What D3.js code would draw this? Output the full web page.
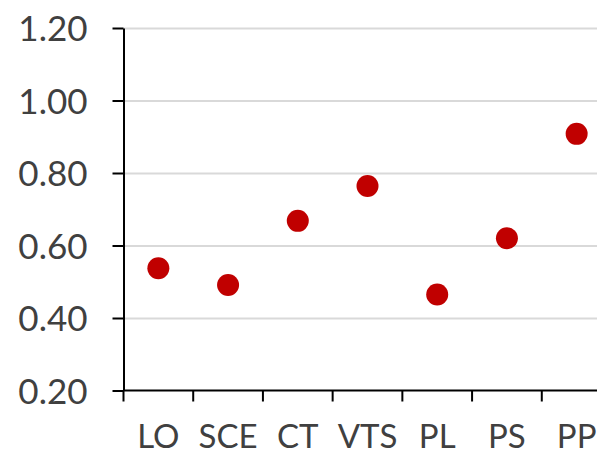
<!DOCTYPE html>
<html>
<head>
<meta charset="utf-8">
<script src="https://cdn.jsdelivr.net/npm/d3@7"></script>
<style>
  body { margin: 0; background: #fff; }
  svg { display: block; }
  .tick text { font-family: Lato, "Open Sans", sans-serif; fill: #404040; }
</style>
</head>
<body>
<svg width="597" height="455"></svg>
<script>
const categories = ['LO', 'SCE', 'CT', 'VTS', 'PL', 'PS', 'PP'];
const values = [0.537, 0.491, 0.668, 0.764, 0.465, 0.620, 0.908];
const yTicks = [0.2, 0.4, 0.6, 0.8, 1.0, 1.2];

const margin = { top: 28, left: 123.5 };
const height = 362.5;
const width = 488;

const svg = d3.select('svg');
const chart = svg.append('g')
    .attr('transform', `translate(${margin.left}, ${margin.top})`);

const yScale = d3.scaleLinear()
    .range([height, 0])
    .domain([0.2, 1.2]);

const xScale = d3.scaleBand()
    .range([0, width])
    .domain(categories);

// gridlines
chart.append('g')
    .attr('class', 'grid')
    .call(d3.axisLeft(yScale)
        .tickValues(yTicks.slice(1))
        .tickSize(-width)
        .tickFormat(''))
    .call(g => g.select('.domain').remove())
    .call(g => g.selectAll('line').attr('stroke', '#d9d9d9').attr('stroke-width', 2));

// y axis
chart.append('g')
    .call(d3.axisLeft(yScale)
        .tickValues(yTicks)
        .tickSize(11)
        .tickSizeOuter(0)
        .tickPadding(25)
        .tickFormat(d3.format('.2f')))
    .call(g => g.selectAll('line, path').attr('stroke', '#000').attr('stroke-width', 2))
    .call(g => g.selectAll('text').attr('font-size', 35).attr('dy', '0.36em'));

// x axis, ticks at band edges
const xAxis = chart.append('g')
    .attr('transform', `translate(0, ${height})`);

xAxis.append('line')
    .attr('x1', 0).attr('x2', width)
    .attr('stroke', '#000').attr('stroke-width', 2);

xAxis.selectAll('.edge')
    .data(categories)
    .enter()
    .append('line')
    .attr('class', 'edge')
    .attr('x1', (c) => xScale(c)).attr('x2', (c) => xScale(c))
    .attr('y1', 0).attr('y2', 11)
    .attr('stroke', '#000').attr('stroke-width', 2);

xAxis.selectAll('.lbl')
    .data(categories)
    .enter()
    .append('text')
    .attr('class', 'lbl')
    .attr('x', (c) => xScale(c) + xScale.bandwidth() / 2)
    .attr('y', 57.5)
    .attr('text-anchor', 'middle')
    .attr('font-family', 'Lato, "Open Sans", sans-serif')
    .attr('font-size', 33)
    .attr('fill', '#404040')
    .text((c) => c);

// points
chart.selectAll('circle')
    .data(categories)
    .enter()
    .append('circle')
    .attr('cx', (c) => xScale(c) + xScale.bandwidth() / 2)
    .attr('cy', (c, i) => yScale(values[i]))
    .attr('r', 11)
    .attr('fill', '#c00000');
</script>
</body>
</html>
